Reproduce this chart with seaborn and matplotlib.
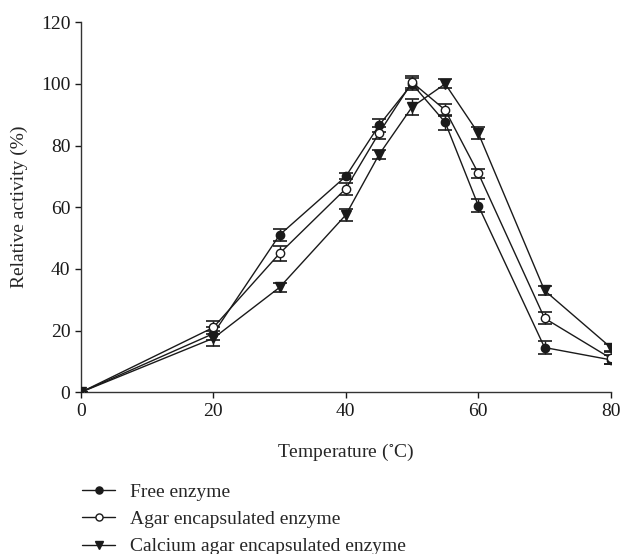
import matplotlib
matplotlib.use("Agg")
import matplotlib.pyplot as plt
import seaborn as sns
import pandas as pd
import numpy as np

temperature = [0, 20, 30, 40, 45, 50, 55, 60, 70, 80]
free_enzyme = [0, 19, 51, 70, 86.5, 100, 87.5, 60.5, 14.5, 10.5]
free_err = [0, 2, 2, 1, 2, 2, 2.5, 2, 2, 1.5]
agar_enzyme = [0, 21, 45, 66, 84, 100.5, 91.5, 71, 24, 11]
agar_err = [0, 2, 2.5, 2, 2, 2, 2, 1.5, 2, 2]
calcium_enzyme = [0, 17.5, 34, 57.5, 77, 92.5, 100, 84, 33, 14.5]
calcium_err = [0, 2.5, 1.5, 2, 1.5, 2.5, 1.5, 2, 1.5, 1]

series_names = ["Free enzyme", "Agar encapsulated enzyme", "Calcium agar encapsulated enzyme"]
x_ticks = [0, 20, 40, 60, 80]
y_ticks = [0, 20, 40, 60, 80, 100, 120]

sns.set_style("ticks")
plt.rcParams['font.family'] = ['Liberation Serif', 'DejaVu Serif']
plt.rcParams['mathtext.fontset'] = 'stix'

FS = 14

fig = plt.figure(figsize=(6.22, 5.54), dpi=100)
ax = fig.add_axes([0.130, 0.292, 0.852, 0.668])

series = [
    (free_enzyme, free_err, dict(marker='o', mfc='#1a1a1a', mec='#1a1a1a')),
    (agar_enzyme, agar_err, dict(marker='o', mfc='white', mec='#1a1a1a')),
    (calcium_enzyme, calcium_err, dict(marker='v', mfc='#1a1a1a', mec='#1a1a1a')),
]

for name, (vals, errs, style) in zip(series_names, series):
    df = pd.DataFrame({"t": temperature, "v": vals})
    ax.errorbar(temperature, vals, yerr=errs, fmt='none', ecolor='#1a1a1a',
                elinewidth=1.0, capsize=5, capthick=1.2, zorder=2)
    sns.lineplot(data=df, x="t", y="v", ax=ax, color='#1a1a1a', linewidth=1.0,
                 markersize=6.5 if style['marker'] == 'v' else 6,
                 markeredgewidth=1.0, zorder=3, label=name, **style)

ax.set_xlim(0, 80)
ax.set_ylim(0, 120)
ax.set_xticks(x_ticks)
ax.set_yticks(y_ticks)
ax.tick_params(axis='both', labelsize=FS, direction='out', length=4, width=1, colors='#1a1a1a')
for s in ['left', 'bottom']:
    ax.spines[s].set_color('#333333')
    ax.spines[s].set_linewidth(1.0)
sns.despine(ax=ax)
ax.set_xlabel("Temperature ($^{\\circ}$C)", fontsize=FS, labelpad=16)
ax.set_ylabel("Relative activity (%)", fontsize=FS, labelpad=9)

h, l = ax.get_legend_handles_labels()
ax.get_legend().remove()
fig.legend(h, l, loc='upper left', bbox_to_anchor=(0.132, 0.128), frameon=False,
           fontsize=FS, handlelength=1.7, handletextpad=0.75, labelspacing=0.5,
           borderaxespad=0, borderpad=0, markerscale=0.85)

fig.savefig("out.png", dpi=100)
